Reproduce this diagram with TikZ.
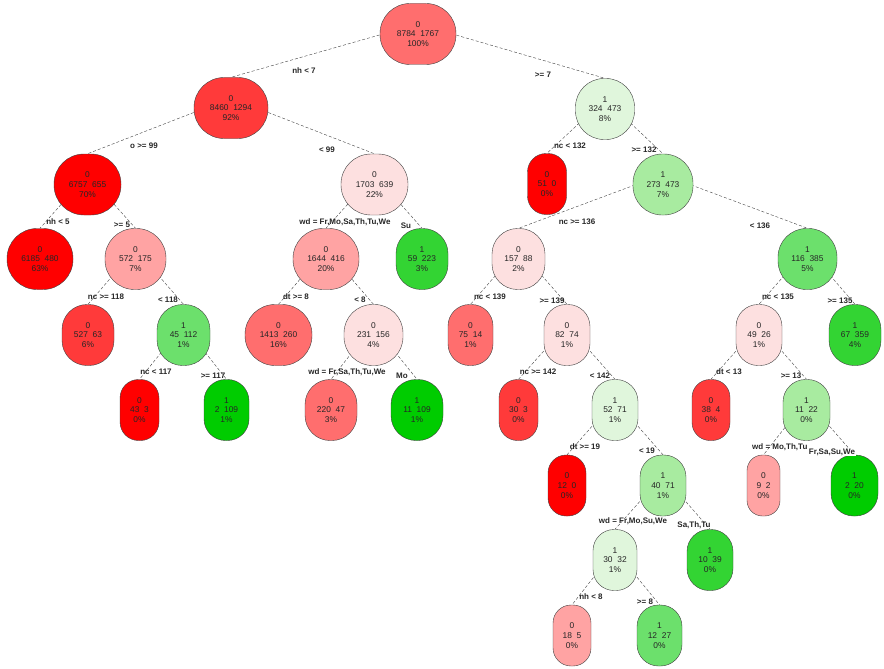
\documentclass[tikz,border=0pt]{standalone}
\usepackage{fontspec}
\setmainfont{Liberation Sans}
\usetikzlibrary{backgrounds}

% 节点颜色（0 类为红，1 类为绿）
\definecolor{redA}{HTML}{FF0000}
\definecolor{redB}{HTML}{FF3A3A}
\definecolor{redC}{HTML}{FF6E6E}
\definecolor{redD}{HTML}{FFA3A3}
\definecolor{redE}{HTML}{FDE0E0}
\definecolor{grnE}{HTML}{E0F6DC}
\definecolor{grnD}{HTML}{A8EBA0}
\definecolor{grnC}{HTML}{6CE06C}
\definecolor{grnB}{HTML}{33D433}
\definecolor{grnA}{HTML}{00CC00}

\newcommand{\leafinfo}[4]{#1\\#2~~#3\\#4\%}

\tikzset{
  tbox/.style 2 args={draw=black!75, fill=#1, minimum width=#2pt,
    minimum height=61pt, inner sep=0pt, align=center,
    rounded corners={min(#2/2-1,30)*1pt},
    font=\fontsize{8.4}{9.7}\selectfont, text=black!85},
  branch/.style={draw=black!75, dash pattern=on 3pt off 2pt},
  split/.style={font=\fontsize{8}{9}\selectfont\bfseries, text=black!85, inner sep=0pt}
}

\begin{document}
\begin{tikzpicture}[x=1pt, y=-1pt]
    \useasboundingbox (0,0) rectangle (884,669);

    % 第 0-2 层
    \node[tbox={redC}{76}] (n1) at (418,34) {\leafinfo{0}{8784}{1767}{100}};
    \node[tbox={redB}{74}] (n2) at (231,108) {\leafinfo{0}{8460}{1294}{92}};
    \node[tbox={grnE}{59}] (n3) at (605,109) {\leafinfo{1}{324}{473}{8}};
    \node[tbox={redA}{67}] (n4) at (87.5,184.5) {\leafinfo{0}{6757}{655}{70}};
    \node[tbox={redE}{67}] (n5) at (374.5,184.5) {\leafinfo{0}{1703}{639}{22}};
    \node[tbox={redA}{39}] (n6) at (547,184) {\leafinfo{0}{51}{0}{0}};
    \node[tbox={grnD}{60}] (n7) at (663,184.5) {\leafinfo{1}{273}{473}{7}};

    % 第 3 层
    \node[tbox={redA}{66}] (n8) at (40,259) {\leafinfo{0}{6185}{480}{63}};
    \node[tbox={redD}{61}] (n9) at (135.5,259) {\leafinfo{0}{572}{175}{7}};
    \node[tbox={redD}{66}] (n10) at (326,259) {\leafinfo{0}{1644}{416}{20}};
    \node[tbox={grnB}{52}] (n11) at (422,259) {\leafinfo{1}{59}{223}{3}};
    \node[tbox={redE}{53}] (n14) at (518.5,259) {\leafinfo{0}{157}{88}{2}};
    \node[tbox={grnC}{59}] (n15) at (807.5,259) {\leafinfo{1}{116}{385}{5}};

    % 第 4 层
    \node[tbox={redB}{52}] (n18) at (88,335) {\leafinfo{0}{527}{63}{6}};
    \node[tbox={grnC}{53}] (n19) at (183.5,335) {\leafinfo{1}{45}{112}{1}};
    \node[tbox={redC}{67}] (n20) at (278.5,335) {\leafinfo{0}{1413}{260}{16}};
    \node[tbox={redE}{59}] (n21) at (373.5,335) {\leafinfo{0}{231}{156}{4}};
    \node[tbox={redC}{45}] (n28) at (470.5,335) {\leafinfo{0}{75}{14}{1}};
    \node[tbox={redE}{46}] (n29) at (567,335) {\leafinfo{0}{82}{74}{1}};
    \node[tbox={redE}{46}] (n30) at (759,335) {\leafinfo{0}{49}{26}{1}};
    \node[tbox={grnB}{52}] (n31) at (855,335) {\leafinfo{1}{67}{359}{4}};

    % 第 5 层
    \node[tbox={redA}{39}] (n38) at (139.5,410) {\leafinfo{0}{43}{3}{0}};
    \node[tbox={grnA}{45}] (n39) at (226.5,410) {\leafinfo{1}{2}{109}{1}};
    \node[tbox={redC}{52}] (n42) at (331,410) {\leafinfo{0}{220}{47}{3}};
    \node[tbox={grnA}{52}] (n43) at (417,410) {\leafinfo{1}{11}{109}{1}};
    \node[tbox={redB}{39}] (n58) at (518.5,410) {\leafinfo{0}{30}{3}{0}};
    \node[tbox={grnE}{46}] (n59) at (615,410) {\leafinfo{1}{52}{71}{1}};
    \node[tbox={redB}{38}] (n60) at (711,410) {\leafinfo{0}{38}{4}{0}};
    \node[tbox={grnD}{47}] (n61) at (806.5,410) {\leafinfo{1}{11}{22}{0}};

    % 第 6-8 层
    \node[tbox={redA}{38}] (n118) at (567,485.5) {\leafinfo{0}{12}{0}{0}};
    \node[tbox={grnD}{46}] (n119) at (663,485.5) {\leafinfo{1}{40}{71}{1}};
    \node[tbox={redD}{33}] (n122) at (763.5,485.5) {\leafinfo{0}{9}{2}{0}};
    \node[tbox={grnA}{47}] (n123) at (854.5,485.5) {\leafinfo{1}{2}{20}{0}};
    \node[tbox={grnE}{44}] (n238) at (615,560) {\leafinfo{1}{30}{32}{1}};
    \node[tbox={grnB}{46}] (n239) at (710,560) {\leafinfo{1}{10}{39}{0}};
    \node[tbox={redD}{38}] (n476) at (572,635.5) {\leafinfo{0}{18}{5}{0}};
    \node[tbox={grnC}{45}] (n477) at (659.5,635.5) {\leafinfo{1}{12}{27}{0}};

    % 分支虚线（放在节点下面）
    \begin{pgfonlayer}{background}
    \foreach \p/\c in {1/2,1/3,2/4,2/5,3/6,3/7,4/8,4/9,5/10,5/11,7/14,7/15,
                       9/18,9/19,10/20,10/21,14/28,14/29,15/30,15/31,
                       19/38,19/39,21/42,21/43,29/58,29/59,30/60,30/61,
                       59/118,59/119,61/122,61/123,119/238,119/239,238/476,238/477}
        \draw[branch] ([yshift=10pt]n\p.center) -- (n\c.north);
    \end{pgfonlayer}

    % 分裂条件
    \node[split] (s2) at (304,71) {nh < 7};
    \node[split] (s3) at (543,75) {>= 7};
    \node[split] (s4) at (144,146) {o >= 99};
    \node[split] (s5) at (327,150) {< 99};
    \node[split] (s6) at (570,146) {nc < 132};
    \node[split] (s7) at (644,150) {>= 132};
    \node[split] (s8) at (58,222) {nh < 5};
    \node[split] (s9) at (122,225) {>= 5};
    \node[split] (s10) at (345,222) {wd = Fr,Mo,Sa,Th,Tu,We};
    \node[split] (s11) at (406,226) {Su};
    \node[split] (s14) at (577,222) {nc >= 136};
    \node[split] (s15) at (760,226) {< 136};
    \node[split] (s18) at (106,297) {nc >= 118};
    \node[split] (s19) at (168,300) {< 118};
    \node[split] (s20) at (296,297) {dt >= 8};
    \node[split] (s21) at (360,300) {< 8};
    \node[split] (s28) at (490,297) {nc < 139};
    \node[split] (s29) at (552,301) {>= 139};
    \node[split] (s30) at (778,297) {nc < 135};
    \node[split] (s31) at (840,301) {>= 135};
    \node[split] (s38) at (156,372) {nc < 117};
    \node[split] (s39) at (213,376) {>= 117};
    \node[split] (s42) at (347,372) {wd = Fr,Sa,Th,Tu,We};
    \node[split] (s43) at (402,376) {Mo};
    \node[split] (s58) at (538,372) {nc >= 142};
    \node[split] (s59) at (600,376) {< 142};
    \node[split] (s60) at (729,372) {dt < 13};
    \node[split] (s61) at (791,376) {>= 13};
    \node[split] (s118) at (585,447) {dt >= 19};
    \node[split] (s119) at (647,451) {< 19};
    \node[split, anchor=west] (s122) at (752,447) {wd = Mo,Th,Tu};
    \node[split, fill=white, inner sep=1pt] (s123) at (832,452) {Fr,Sa,Su,We};
    \node[split] (s238) at (633,521) {wd = Fr,Mo,Su,We};
    \node[split] (s239) at (694,525) {Sa,Th,Tu};
    \node[split] (s476) at (591,597) {nh < 8};
    \node[split] (s477) at (645,602) {>= 8};

\end{tikzpicture}
\end{document}
